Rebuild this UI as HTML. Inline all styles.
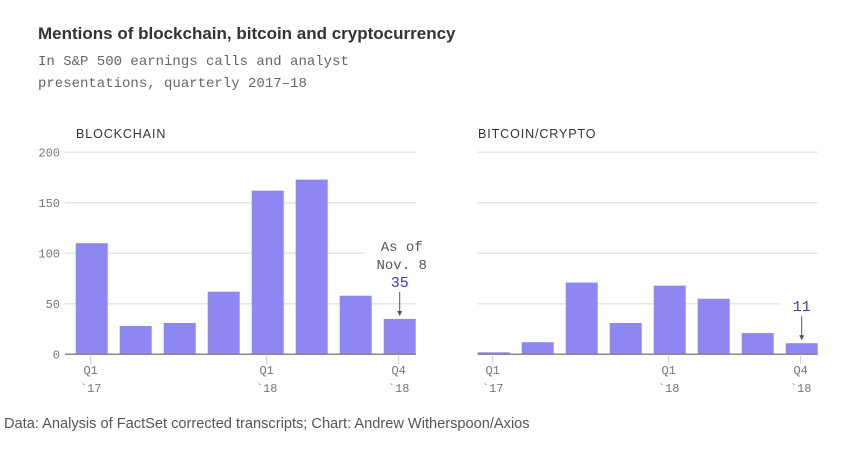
<!DOCTYPE html>
<html><head><meta charset="utf-8"><style>
body{margin:0;background:#fff;width:849px;height:447px;overflow:hidden;font-family:"Liberation Sans",sans-serif}
</style></head><body>
<svg width="849" height="447">
<text x="38" y="39" font-size="17" font-weight="bold" fill="#333">Mentions of blockchain, bitcoin and cryptocurrency</text>
<text x="38" y="65" font-size="14" fill="#666" font-family="Liberation Mono,monospace">In S&amp;P 500 earnings calls and analyst</text>
<text x="38" y="87" font-size="14" fill="#666" font-family="Liberation Mono,monospace">presentations, quarterly 2017–18</text>
<text x="76" y="138" font-size="12.5" fill="#333" letter-spacing="0.9">BLOCKCHAIN</text>
<text x="478" y="138" font-size="12.5" fill="#333" letter-spacing="0.9">BITCOIN/CRYPTO</text>
<g id="g"></g>
<text x="4" y="428" font-size="14.6" fill="#555">Data: Analysis of FactSet corrected transcripts; Chart: Andrew Witherspoon/Axios</text>
</svg>
<script>
const categories=["Q1 '17","Q2 '17","Q3 '17","Q4 '17","Q1 '18","Q2 '18","Q3 '18","Q4 '18"];
const blockchainValues=[110,28,31,62,162,173,58,35];
const bitcoinValues=[2,12,71,31,68,55,21,11];
const yTicks=[0,50,100,150,200];
const ns="http://www.w3.org/2000/svg",g=document.getElementById('g');
function mk(t,a,txt){const e=document.createElementNS(ns,t);for(const k in a)e.setAttribute(k,a[k]);if(txt!=null)e.textContent=txt;g.appendChild(e);return e;}
const y0=354.3,yk=202/200;
function y(v){return y0-v*yk;}
function panel(vals,gx0,gx1,bx0,name,showY,cut,label,pre){
 yTicks.forEach(t=>{
  let x1=gx1; if(t===cut[0])x1=cut[1];
  if(t>0){const l=mk('line',{x1:gx0,x2:x1,y1:y(t),y2:y(t),stroke:'#e6e6e6','stroke-width':1.5});
  }
  if(showY){const tx=mk('text',{x:60,y:y(t)+4,'font-size':12,fill:'#777','text-anchor':'end','font-family':'Liberation Mono,monospace'},String(t));
  }
 });
 vals.forEach((v,i)=>{
  const r=mk('rect',{x:bx0+i*44,y:y(v),width:32,height:v*yk,fill:'#8f87f1'});
  
 });
 const ax=mk('line',{x1:gx0,x2:gx1,y1:y0,y2:y0,stroke:'#888','stroke-width':1.5});
 
 [[0,'Q1','`17'],[4,'Q1','`18'],[7,'Q4','`18']].forEach(([i,a,b])=>{
  const cx=bx0+i*44+15;
  const tl=mk('line',{x1:cx,x2:cx,y1:y0,y2:y0+10,stroke:'#ccc'});
  
  const t1=mk('text',{x:cx,y:374,'font-size':12,fill:'#777','text-anchor':'middle','font-family':'Liberation Mono,monospace'},a);
  
  const t2=mk('text',{x:cx,y:392,'font-size':12,fill:'#777','text-anchor':'middle','font-family':'Liberation Mono,monospace'},b);
  
 });
 const li=vals.length-1,cx=bx0+li*44+16,top=y(vals[li]);
 const ar=mk('line',{x1:cx,x2:cx,y1:top-27,y2:top-4,stroke:'#555'});
 
 const ah=mk('path',{d:`M${cx-2.5},${top-8}L${cx+2.5},${top-8}L${cx},${top-3}Z`,fill:'#555'});
 
 const lv=mk('text',{x:cx,y:top-32,'font-size':15,fill:'#4b35b8','text-anchor':'middle','font-family':'Liberation Mono,monospace'},String(vals[li]));
 
 if(pre){pre.forEach((s,k)=>{const t=mk('text',{x:cx+2,y:top-68+k*18,'font-size':14,fill:'#555','text-anchor':'middle','font-family':'Liberation Mono,monospace'},s);
  });}
}
panel(blockchainValues,65,416,75.7,'blockchain',true,[100,365],null,['As of','Nov. 8']);
panel(bitcoinValues,477.7,817.7,477.7,'bitcoin',false,[50,780],null,null);
</script>
</body></html>
